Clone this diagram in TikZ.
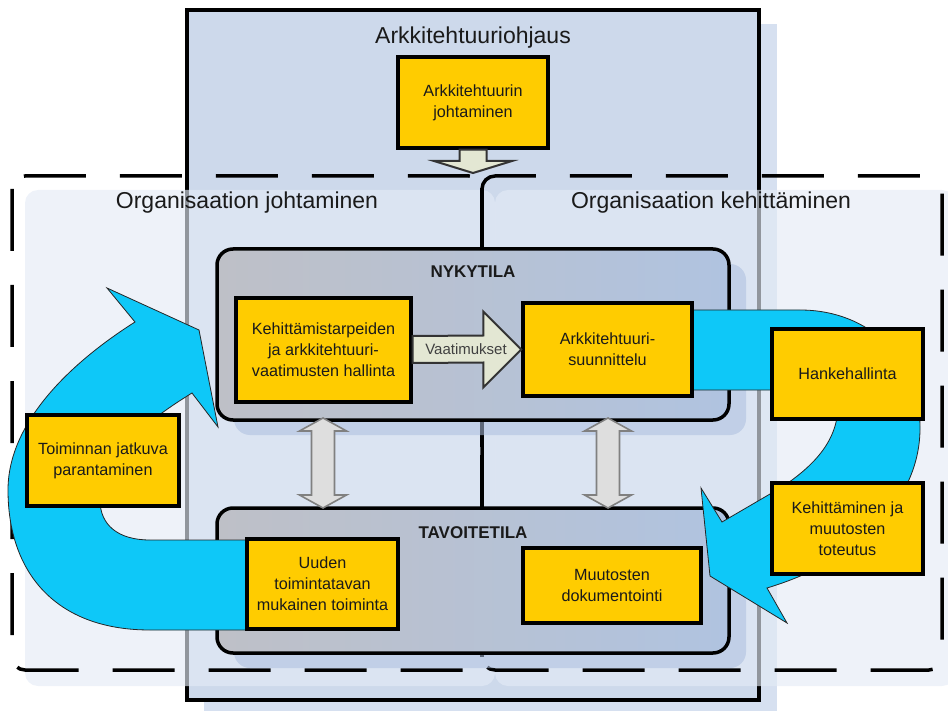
\documentclass[tikz,border=0pt]{standalone}
\usepackage{fontspec}
\setmainfont{Liberation Sans}
\usetikzlibrary{calc}

\definecolor{ohjausfill}{RGB}{205,217,235}
\definecolor{ohjausshadow}{RGB}{214,224,240}
\definecolor{alueshadow}{RGB}{228,235,246}
\definecolor{tilagray}{RGB}{190,192,199}
\definecolor{tilablue}{RGB}{176,195,224}
\definecolor{tilashadow}{RGB}{172,190,222}
\definecolor{tehtava}{RGB}{255,204,0}
\definecolor{kierto}{RGB}{14,200,248}
\definecolor{nuolifill}{RGB}{227,231,211}
\definecolor{tilanuoli}{RGB}{222,222,222}
\definecolor{teksti}{RGB}{26,26,26}

\tikzset{
  ohjaus/.style={draw=black, line width=4pt, fill=ohjausfill},
  alue/.style={draw=black, line width=3.5pt, dash pattern=on 62pt off 34pt, rounded corners=13pt},
  alueraja/.style={draw=black, line width=3.5pt},
  alueshade/.style={fill=alueshadow, fill opacity=0.64, rounded corners=13pt},
  tila/.style={draw=black, line width=3.5pt, rounded corners=16pt, left color=tilagray, right color=tilablue},
  tilashade/.style={fill=tilashadow, fill opacity=0.55, rounded corners=16pt},
  tehtavabox/.style={draw=black, line width=3.4pt, fill=tehtava, align=center, text=teksti,
    font=\fontsize{16.2}{21}\selectfont, inner sep=2pt},
  otsikko/.style={text=teksti, font=\fontsize{23}{27}\selectfont, inner sep=0pt},
  tilaotsikko/.style={text=teksti, font=\fontsize{17}{20}\bfseries\selectfont, inner sep=0pt},
  kiertonuoli/.style={fill=kierto, draw=black!85, line width=0.8pt, line join=miter},
  vaatnuoli/.style={fill=nuolifill, draw=black!80, line width=2pt, line join=miter},
  tilavali/.style={fill=tilanuoli, draw=black!50, line width=1.6pt, line join=miter},
}

% vertical double block arrow between two named coordinates (top, bottom)
\newcommand{\tilavalinuoli}[2]{%
  \draw[tilavali] (#1) -- ++(23.5,13) -- ++(-12,0) -- ($(#2)+(11.5,-13)$) -- ++(12,0)
    -- (#2) -- ++(-23.5,-13) -- ++(12,0) -- ($(#1)+(-11.5,13)$) -- ++(-12,0) -- cycle;}

\begin{document}
\begin{tikzpicture}[x=1pt,y=-1pt]
\useasboundingbox (0,0) rectangle (948,711);

% architecture governance frame with its shadow
\fill[ohjausshadow] (204,24) rectangle (777,711);
\node[ohjaus, minimum width=572pt, minimum height=690pt, inner sep=0pt] (ohjaus) at (473,355) {};
\node[otsikko] (ohjausotsikko) at (473,38) {Arkkitehtuuriohjaus};
\node[tehtavabox, minimum width=150pt, minimum height=91pt] (arkjoht) at (473,102.5)
  {Arkkitehtuurin\\johtaminen};

% block arrow from architecture management down into the organisation
\coordinate (arkkarki) at (473,173);
\draw[vaatnuoli] ($(arkjoht.south)+(-13.5,0)$) -- ($(arkkarki)+(-13.5,-12)$) -- ++(-25.5,0)
  -- (arkkarki) -- ++(39,-12) -- ++(-25.5,0) -- ($(arkjoht.south)+(13.5,0)$) -- cycle;

% organisation areas: shadows then dashed outlines and the shared border
\path[alueshade] (25,190) rectangle (495,686);
\path[alueshade] (495,190) rectangle (955,686);
\draw[alue] (12,176) rectangle (482,670);
\draw[alue] (482,176) rectangle (942,670);
\draw[alueraja] (482,188) -- (482,447) (482,455) -- (482,657);
\node[otsikko] (johtaminen) at (247,203) {Organisaation johtaminen};
\node[otsikko] (kehittaminen) at (711,203) {Organisaation kehittäminen};

% current state and target state panels
\path[tilashade] (234,264) rectangle (746,435);
\path[tilashade] (234,523) rectangle (746,668);
\node[tila, minimum width=512pt, minimum height=171pt, inner sep=0pt] (nyky) at (473,334.5) {};
\node[tila, minimum width=512pt, minimum height=145pt, inner sep=0pt] (tavoite) at (473,580.5) {};
\node[tilaotsikko] (nykyotsikko) at (473,272) {NYKYTILA};
\node[tilaotsikko] (tavoiteotsikko) at (473,533) {TAVOITETILA};

% double arrows between the two states
\coordinate (va1) at (323,418);
\coordinate (va1b) at (323,508);
\coordinate (va2) at (608,418);
\coordinate (va2b) at (608,508);
\tilavalinuoli{va1}{va1b}
\tilavalinuoli{va2}{va2b}

% continuous improvement loop (left)
\draw[kiertonuoli] (262,630) -- (150,630) .. controls (55,630) and (8,572) .. (8,490)
  .. controls (8,420) and (75,360) .. (135,322) -- (107,288) -- (199,330) -- (218,427)
  -- (192,393) .. controls (140,425) and (100,460) .. (100,500)
  .. controls (100,525) and (118,540) .. (150,540) -- (262,540) -- cycle;

% development loop (right)
\draw[kiertonuoli] (690,310) -- (800,310) .. controls (870,310) and (921,360) .. (920,430)
  .. controls (919,500) and (860,560) .. (767,588) -- (787,623) -- (710,576) -- (701,488)
  -- (722,522) -- (782,487) .. controls (815,465) and (838,440) .. (838,405)
  .. controls (838,395) and (830,390) .. (815,390) -- (690,390) -- cycle;

% task boxes
\node[tehtavabox, minimum width=175pt, minimum height=104pt] (tarpeet) at (323.5,350)
  {Kehittämistarpeiden\\ja arkkitehtuuri-\\vaatimusten hallinta};
\node[tehtavabox, minimum width=169pt, minimum height=93pt] (suunnittelu) at (607.5,349.5)
  {Arkkitehtuuri-\\suunnittelu};
\node[tehtavabox, minimum width=151pt, minimum height=90pt] (hanke) at (847.5,374)
  {Hankehallinta};
\node[tehtavabox, minimum width=151pt, minimum height=91pt] (toteutus) at (847.5,528.5)
  {Kehittäminen ja\\muutosten\\toteutus};
\node[tehtavabox, minimum width=178pt, minimum height=75pt] (dokumentointi) at (612,585.5)
  {Muutosten\\dokumentointi};
\node[tehtavabox, minimum width=151pt, minimum height=90pt] (toiminta) at (322.5,584)
  {Uuden\\toimintatavan\\mukainen toiminta};
\node[tehtavabox, minimum width=152pt, minimum height=91pt] (parantaminen) at (103,460.5)
  {Toiminnan jatkuva\\parantaminen};

% requirements arrow
\draw[vaatnuoli] ($(tarpeet.east)+(0,-14)$) -- ($(suunnittelu.west)+(-38,-14)$)
  -- ($(suunnittelu.west)+(-38,-38)$) -- (suunnittelu.west) -- ($(suunnittelu.west)+(-38,38)$)
  -- ($(suunnittelu.west)+(-38,13)$) -- ($(tarpeet.east)+(0,13)$) -- cycle;
\node[text=black!75, font=\fontsize{15}{18}\selectfont, inner sep=0pt] (vaatimukset)
  at (466,349) {Vaatimukset};

\end{tikzpicture}
\end{document}
